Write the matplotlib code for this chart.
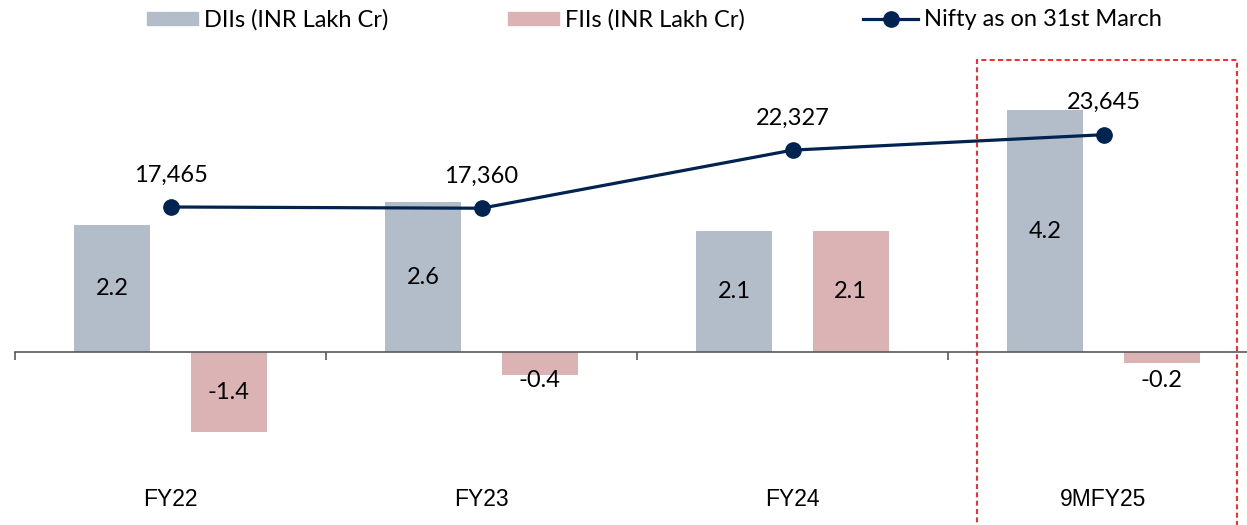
import numpy as np
import matplotlib
matplotlib.use('Agg')
import matplotlib.pyplot as plt
from matplotlib.patches import Rectangle, Patch
from matplotlib.lines import Line2D

plt.rcParams['font.family'] = ['Lato', 'DejaVu Sans']

categories = ['FY22', 'FY23', 'FY24', '9MFY25']
dii = [2.2, 2.6, 2.1, 4.2]
fii = [-1.4, -0.4, 2.1, -0.2]
nifty = [17465, 17360, 22327, 23645]

DII_COLOR = '#B3BDC9'
FII_COLOR = '#DBB3B4'
LINE_COLOR = '#002350'
FS = 17

fig = plt.figure(figsize=(12.47, 5.25), dpi=100)
ax = fig.add_axes([15 / 1247, 0, 1244 / 1247, 485 / 525])
x = np.arange(len(categories))
off = 0.187
w = 0.245

ax.bar(x - off, dii, w, color=DII_COLOR, zorder=2)
ax.bar(x + off, fii, w, color=FII_COLOR, zorder=2)

for xi, v in zip(x - off, dii):
    ax.text(xi, v / 2, f'{v:.1f}', ha='center', va='center', fontsize=FS)
for xi, v in zip(x + off, fii):
    y = v / 2 if abs(v) > 1 else -0.5
    ax.text(xi, y, f'{v:.1f}', ha='center', va='center', fontsize=FS)
for xi, c in zip(x, categories):
    ax.text(xi, -2.57, c, ha='center', va='center', fontsize=16.5,
            family=['Liberation Sans', 'DejaVu Sans'])

ax.set_xlim(-0.5, len(categories) - 0.5)
ax.set_ylim(-3.009, 5.426)
for s in ['top', 'left', 'right']:
    ax.spines[s].set_visible(False)
ax.spines['bottom'].set_position(('data', 0))
ax.spines['bottom'].set_color('#595959')
ax.spines['bottom'].set_linewidth(1.2)
ax.set_yticks([])
ax.set_xticks(np.arange(len(categories) + 1) - 0.5)
ax.set_xticklabels([])
ax.tick_params(axis='x', direction='out', length=6, color='#595959', width=1.2)

ax2 = ax.twinx()
ax2.plot(x, nifty, color=LINE_COLOR, lw=2.3, marker='o', markersize=11, zorder=3)
for xi, v in zip(x, nifty):
    ax2.annotate(f'{v:,}', (xi, v), xytext=(0, 23), textcoords='offset points',
                 ha='center', va='center', fontsize=FS)
ax2.set_ylim(-9725, 31743)
ax2.set_yticks([])
for s in ax2.spines.values():
    s.set_visible(False)

rect = Rectangle((2.593, -3.3), 3.429 - 2.593, 5.08 + 3.3, fill=False,
                 edgecolor='#FF0000', linestyle=(0, (3, 2)), lw=1.2, clip_on=False, zorder=5)
ax.add_patch(rect)

# legend entries placed one by one
entries = [
    (Patch(color=DII_COLOR), 'DIIs (INR Lakh Cr)', 147, 2.15),
    (Patch(color=FII_COLOR), 'FIIs (INR Lakh Cr)', 508, 2.15),
    (Line2D([], [], color=LINE_COLOR, lw=2.3, marker='o', markersize=11),
     'Nifty as on 31st March', 863, 2.35),
]
for h, lab, x0, hl in entries:
    fig.legend([h], [lab], loc='center left', bbox_to_anchor=(x0 / 1247, 1 - 20 / 525),
               frameon=False, fontsize=17, borderpad=0, borderaxespad=0,
               handlelength=hl, handleheight=0.5, handletextpad=0.25)

fig.savefig('out.png', dpi=100)
